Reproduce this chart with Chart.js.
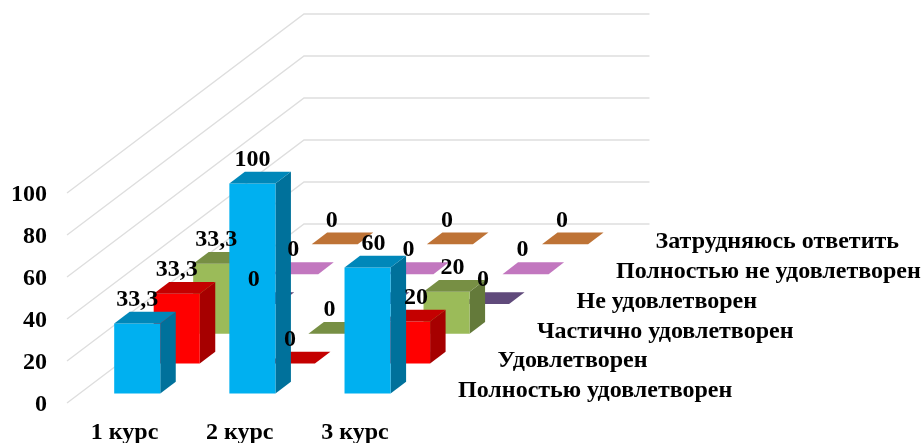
<!DOCTYPE html>
<html><head><meta charset="utf-8">
<style>html,body{margin:0;padding:0;background:#fff}canvas{display:block}</style>
<script src="https://cdn.jsdelivr.net/npm/chart.js@4"></script></head>
<body><canvas id="c" width="923" height="443"></canvas>
<script>
const categories = ["1 курс", "2 курс", "3 курс"];
const seriesNames = ["Полностью удовлетворен","Удовлетворен","Частично удовлетворен","Не удовлетворен","Полностью не удовлетворен","Затрудняюсь ответить"];
const fullySatisfied = [33.3, 100, 60];
const satisfied = [33.3, 0, 20];
const partlySatisfied = [33.3, 0, 20];
const notSatisfied = [0, 0, 0];
const fullyNotSatisfied = [0, 0, 0];
const hardToSay = [0, 0, 0];
const yTicks = [0, 20, 40, 60, 80, 100];
// the label of the bar hidden behind the 60 bar is absent from the picture
const hiddenLabels = [[3, 1]];

const seriesValues = [fullySatisfied, satisfied, partlySatisfied, notSatisfied, fullyNotSatisfied, hardToSay];
const faceColors = [
  {front:"#00B0F0", top:"#0087B9", side:"#00719B"},
  {front:"#FF0000", top:"#C40000", side:"#A60000"},
  {front:"#9BBB59", top:"#778F44", side:"#647A3A"},
  {front:"#7D60A0", top:"#604A7B", side:"#513E68"},
  {front:"#F79AF5", top:"#C277BF", side:"#A0639E"},
  {front:"#F79646", top:"#BE7336", side:"#A0612E"}
];
const FONT = 'bold 24px "Liberation Serif"';
const STEP_X = 39.5, STEP_Y = 29.83, FIRST = 0.32, SIDE_X = 15.5, SIDE_Y = 11.8, ROWS = 6;
// small per-label pixel adjustments [series, category, dx]
const labelNudge = {"0,2":6,"1,2":9,"2,2":6,"3,2":-3,"4,2":-3,"5,2":-3,"5,0":-3,"5,1":-3,"4,0":-2,"4,1":-2,"3,0":-2,"2,1":-2,"1,1":-2};

const view3d = {
  id: "view3d",
  beforeDatasetsDraw(chart) {
    const ctx = chart.ctx, ys = chart.scales.y, a = chart.chartArea;
    ctx.save();
    // walls
    ctx.strokeStyle = "#DEDEDE"; ctx.lineWidth = 1.4;
    for (const t of ys.ticks) {
      const y = ys.getPixelForValue(t.value);
      ctx.beginPath();
      ctx.moveTo(a.left, y);
      ctx.lineTo(a.left + ROWS * STEP_X, y - ROWS * STEP_Y);
      ctx.lineTo(a.right + ROWS * STEP_X, y - ROWS * STEP_Y);
      ctx.stroke();
    }
    // bars, back row first
    const poly = (c, p) => {
      ctx.fillStyle = c; ctx.beginPath();
      p.forEach((q, i) => i ? ctx.lineTo(q[0], q[1]) : ctx.moveTo(q[0], q[1]));
      ctx.closePath(); ctx.fill();
    };
    for (let d = ROWS - 1; d >= 0; d--) {
      const ox = (d + FIRST) * STEP_X, oy = (d + FIRST) * STEP_Y, col = faceColors[d];
      chart.getDatasetMeta(d).data.forEach(el => {
        const w = el.width / 2, l = el.x - w + ox, r = el.x + w + ox;
        const t = el.y - oy, b = el.base - oy;
        if (b - t > 0.5) {
          poly(col.side, [[r, t], [r + SIDE_X, t - SIDE_Y], [r + SIDE_X, b - SIDE_Y], [r, b]]);
          poly(col.front, [[l, t], [r, t], [r, b], [l, b]]);
        }
        poly(col.top, [[l, t], [l + SIDE_X, t - SIDE_Y], [r + SIDE_X, t - SIDE_Y], [r, t]]);
      });
    }
    // value labels and row names
    ctx.fillStyle = "#000"; ctx.font = FONT; ctx.textBaseline = "middle"; ctx.textAlign = "center";
    for (let d = 0; d < ROWS; d++) {
      const ox = (d + FIRST) * STEP_X, oy = (d + FIRST) * STEP_Y;
      chart.getDatasetMeta(d).data.forEach((el, i) => {
        if (hiddenLabels.some(h => h[0] === d && h[1] === i)) return;
        const txt = String(seriesValues[d][i]).replace(".", ",");
        ctx.fillText(txt, el.x + ox + (labelNudge[d + "," + i] || 0), el.y - oy - 24);
      });
    }
    ctx.textAlign = "left";
    for (let d = 0; d < ROWS; d++) {
      ctx.fillText(seriesNames[d], a.right + 45.5 + d * STEP_X, a.bottom - 12 - d * STEP_Y);
    }
    ctx.restore();
    return false;
  }
};

new Chart(document.getElementById("c"), {
  type: "bar",
  data: {
    labels: categories,
    datasets: seriesValues.map((v, d) => ({
      label: seriesNames[d], data: v,
      backgroundColor: faceColors[d].front,
      grouped: false, barPercentage: 0.4, categoryPercentage: 1
    }))
  },
  options: {
    responsive: false, animation: false,
    devicePixelRatio: 1,
    layout: {padding: {top: 193, right: 510.5, left: 0, bottom: 0}},
    plugins: {legend: {display: false}, tooltip: {enabled: false}},
    scales: {
      x: {
        grid: {display: false}, border: {display: false},
        ticks: {color: "#000", font: {family: "Liberation Serif", weight: "bold", size: 24}, padding: 7, maxRotation: 0},
        afterFit(s) { s.height = 40; }
      },
      y: {
        min: 0, max: 100,
        afterBuildTicks(s) { s.ticks = yTicks.map(value => ({value})); },
        grid: {display: false, drawTicks: false}, border: {display: false},
        ticks: {color: "#000", font: {family: "Liberation Serif", weight: "bold", size: 24}, padding: 20, labelOffset: 2},
        afterFit(s) { s.width = 67; }
      }
    }
  },
  plugins: [view3d]
});
</script></body></html>
